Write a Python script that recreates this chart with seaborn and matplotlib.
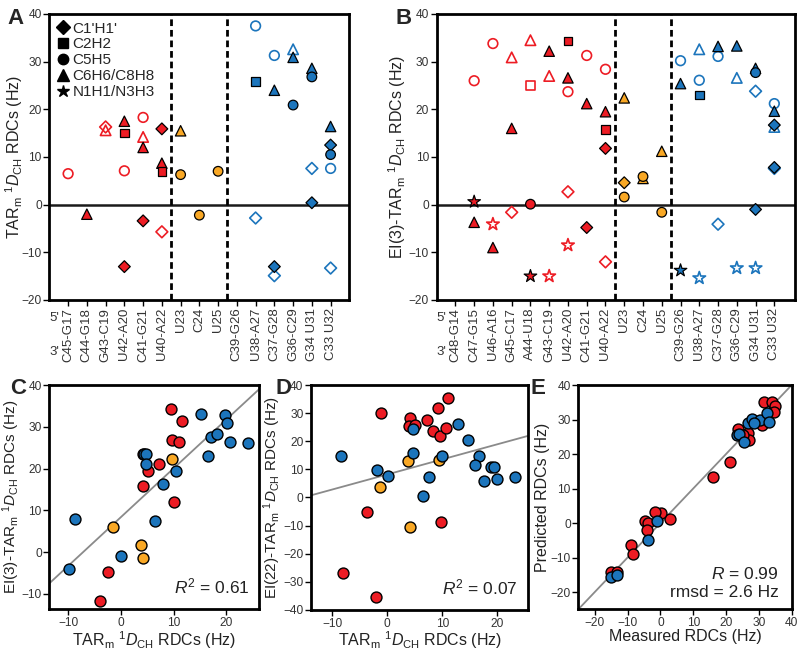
import matplotlib
matplotlib.use("Agg")
import matplotlib.pyplot as plt
from matplotlib.lines import Line2D
import pandas as pd
import seaborn as sns

sns.set_style("ticks")
plt.rcParams["font.family"] = ["Liberation Sans", "DejaVu Sans"]
plt.rcParams["mathtext.fontset"] = "custom"
plt.rcParams["mathtext.rm"] = "Liberation Sans"
plt.rcParams["mathtext.it"] = "Liberation Sans:italic"

palette = {"red": "#ED1C24", "orange": "#F9A825", "blue": "#1C75BC"}
bond_names = {"C1'": "C1'H1'", "C2": "C2H2", "C5": "C5H5", "C6": "C6H6/C8H8", "N": "N1H1/N3H3"}
bond_markers = {"C1'": "D", "C2": "s", "C5": "o", "C6": "^", "N": "*"}
bond_sizes = {"C1'": 36, "C2": 38, "C5": 48, "C6": 56, "N": 90}

# ---- panel A: TAR_m RDCs by residue ----
a_cats = ["C45-G17", "C44-G18", "G43-C19", "U42-A20", "C41-G21", "U40-A22",
          "U23", "C24", "U25", "C39-G26", "U38-A27", "C37-G28", "G36-C29",
          "G34 U31", "C33 U32"]
a_region = ["red"] * 6 + ["orange"] * 3 + ["blue"] * 6
a_res = ["C45-G17", "C44-G18", "G43-C19", "G43-C19",
         "U42-A20", "U42-A20", "U42-A20", "U42-A20",
         "C41-G21", "C41-G21", "C41-G21", "C41-G21",
         "U40-A22", "U40-A22", "U40-A22", "U40-A22",
         "U23", "U23", "C24", "U25",
         "U38-A27", "U38-A27", "U38-A27",
         "C37-G28", "C37-G28", "C37-G28", "C37-G28",
         "G36-C29", "G36-C29", "G36-C29",
         "G34 U31", "G34 U31", "G34 U31", "G34 U31",
         "C33 U32", "C33 U32", "C33 U32", "C33 U32", "C33 U32"]
a_rdc = [6.5, -2.0, 16.3, 15.6,
         17.5, 15.0, 7.1, -13.0,
         18.3, 14.2, 12.0, -3.4,
         15.9, 8.7, 6.9, -5.7,
         15.5, 6.3, -2.2, 7.0,
         37.5, 25.8, -2.8,
         31.3, 24.0, -13.0, -14.9,
         32.6, 30.9, 20.9,
         28.6, 26.8, 7.6, 0.4,
         16.4, 12.5, 10.5, 7.6, -13.3]
a_bond = ["C5", "C6", "C1'", "C6",
          "C6", "C2", "C5", "C1'",
          "C5", "C6", "C6", "C1'",
          "C1'", "C6", "C2", "C1'",
          "C6", "C5", "C5", "C5",
          "C5", "C2", "C1'",
          "C5", "C6", "C1'", "C1'",
          "C6", "C6", "C5",
          "C6", "C5", "C1'", "C1'",
          "C6", "C1'", "C5", "C5", "C1'"]
a_open = [1, 0, 1, 1,
          0, 0, 1, 0,
          1, 1, 0, 0,
          0, 0, 0, 1,
          0, 0, 0, 0,
          1, 0, 1,
          1, 0, 0, 1,
          1, 0, 0,
          0, 0, 1, 0,
          0, 0, 0, 1, 1]

# ---- panel B: EI(3)-TAR_m RDCs by residue ----
b_cats = ["C48-G14", "C47-G15", "U46-A16", "G45-C17", "A44-U18", "G43-C19",
          "U42-A20", "C41-G21", "U40-A22", "U23", "C24", "U25", "C39-G26",
          "U38-A27", "C37-G28", "G36-C29", "G34 U31", "C33 U32"]
b_region = ["red"] * 9 + ["orange"] * 3 + ["blue"] * 6
b_res = ["C47-G15", "C47-G15", "C47-G15",
         "U46-A16", "U46-A16", "U46-A16",
         "G45-C17", "G45-C17", "G45-C17",
         "A44-U18", "A44-U18", "A44-U18", "A44-U18",
         "G43-C19", "G43-C19", "G43-C19",
         "U42-A20", "U42-A20", "U42-A20", "U42-A20", "U42-A20",
         "C41-G21", "C41-G21", "C41-G21",
         "U40-A22", "U40-A22", "U40-A22", "U40-A22", "U40-A22",
         "U23", "U23", "U23", "C24", "C24", "U25", "U25",
         "C39-G26", "C39-G26", "C39-G26",
         "U38-A27", "U38-A27", "U38-A27", "U38-A27",
         "C37-G28", "C37-G28", "C37-G28",
         "G36-C29", "G36-C29", "G36-C29",
         "G34 U31", "G34 U31", "G34 U31", "G34 U31", "G34 U31",
         "C33 U32", "C33 U32", "C33 U32", "C33 U32", "C33 U32", "C33 U32"]
b_rdc = [26.0, 0.6, -3.7,
         33.8, -4.1, -9.0,
         30.9, 16.0, -1.6,
         34.5, 25.0, 0.1, -15.0,
         32.2, 27.0, -15.0,
         34.3, 26.6, 23.7, 2.7, -8.5,
         31.3, 21.2, -4.8,
         28.4, 19.5, 15.8, 11.8, -12.0,
         22.4, 4.6, 1.6, 5.5, 5.9, 11.2, -1.6,
         30.2, 25.4, -13.8,
         32.6, 26.1, 23.0, -15.4,
         33.2, 31.1, -4.1,
         33.3, 26.6, -13.3,
         28.6, 27.7, 23.8, -1.0, -13.3,
         21.2, 19.6, 16.7, 16.3, 7.8, 7.6]
b_bond = ["C5", "N", "C6",
          "C5", "N", "C6",
          "C6", "C6", "C1'",
          "C6", "C2", "C5", "N",
          "C6", "C6", "N",
          "C2", "C6", "C5", "C1'", "N",
          "C5", "C6", "C1'",
          "C5", "C6", "C2", "C1'", "C1'",
          "C6", "C1'", "C5", "C6", "C5", "C6", "C5",
          "C5", "C6", "N",
          "C6", "C5", "C2", "N",
          "C6", "C5", "C1'",
          "C6", "C6", "N",
          "C6", "C5", "C1'", "C1'", "N",
          "C5", "C6", "C1'", "C6", "C1'", "C1'"]
b_open = [1, 0, 0,
          1, 1, 0,
          1, 0, 1,
          1, 1, 0, 0,
          0, 1, 1,
          0, 0, 1, 1, 1,
          1, 0, 0,
          1, 0, 0, 0, 1,
          0, 0, 0, 0, 0, 0, 0,
          1, 0, 0,
          1, 1, 0, 1,
          0, 1, 1,
          0, 1, 1,
          0, 0, 1, 0, 1,
          1, 0, 0, 1, 0, 1]

# ---- panel C: TAR_m vs EI(3)-TAR_m ----
c_red_x = [9.5, 11.6, 9.7, 11.0, 7.3, 5.2, 4.2, 10.1, -2.5, -4.0, 4.1]
c_red_y = [34.2, 31.3, 26.8, 26.4, 21.1, 19.3, 15.8, 11.9, -4.7, -11.7, 23.6]
c_orange_x = [9.7, -1.6, 3.9, 4.2]
c_orange_y = [22.4, 5.9, 1.8, -1.5]
c_blue_x = [-8.7, -9.8, 0.1, 6.5, 7.9, 10.4, 4.4, 4.8, 4.7, 15.3, 19.7, 20.2,
            17.2, 18.3, 16.6, 20.8, 24.1]
c_blue_y = [7.9, -4.1, -1.0, 7.5, 16.4, 19.5, 23.6, 23.6, 21.2, 33.0, 32.9, 31.0,
            27.6, 28.2, 23.0, 26.4, 26.1]

# ---- panel D: TAR_m vs EI(22)-TAR_m ----
d_red_x = [11.1, -1.2, 4.2, 9.2, 7.2, 3.9, 5.1, 8.4, 9.5, 10.6, -3.7, 9.8, -8.0, -2.1]
d_red_y = [35.4, 30.0, 28.3, 31.9, 27.5, 25.4, 25.7, 23.8, 21.9, 24.8, -5.0, -8.6,
           -27.0, -35.3]
d_orange_x = [3.8, 9.4, -1.3, 4.2]
d_orange_y = [12.9, 13.3, 3.9, -10.5]
d_blue_x = [-8.3, -1.8, 0.2, 4.6, 4.6, 7.6, 6.5, 10.0, 12.9, 14.7, 16.6, 15.9,
            17.6, 18.9, 19.4, 20.0, 23.2]
d_blue_y = [14.8, 9.7, 7.6, 16.0, 24.5, 7.3, 0.4, 14.9, 26.2, 20.3, 14.8, 11.5,
            5.9, 10.8, 10.8, 6.5, 7.3]

# ---- panel E: measured vs predicted ----
e_red_x = [16.0, 21.3, 2.9, 0.3, -1.7, -4.8, -3.9, -4.1, -9.0, -8.4, -15.1, -13.3,
           31.5, 33.9, 34.8, 34.6, 30.9, 26.6, 27.1, 23.6, 25.1]
e_red_y = [13.4, 17.8, 1.3, 2.9, 3.1, 0.5, 0.0, -2.1, -6.4, -8.9, -14.1, -14.1,
           35.0, 35.0, 33.9, 32.3, 28.3, 26.0, 24.1, 27.2, 25.6]
e_blue_x = [-0.9, -3.9, -15.1, -13.1, 23.4, 24.1, 25.4, 26.6, 27.9, 30.4, 32.4,
            33.1, 28.6]
e_blue_y = [0.5, -4.8, -15.6, -15.1, 25.6, 25.8, 23.4, 29.0, 30.2, 30.0, 31.9,
            29.2, 29.0]

lab_tar = r"TAR$_\mathrm{m}$ $^{1}D_\mathrm{CH}$ RDCs (Hz)"
lab_ei3 = r"EI(3)-TAR$_\mathrm{m}$ $^{1}D_\mathrm{CH}$ RDCs (Hz)"
lab_ei22 = r"EI(22)-TAR$_\mathrm{m}$ $^{1}D_\mathrm{CH}$ RDCs (Hz)"
TICK = "#333333"
LAB = "#222222"
LABSIZE = 11.5


def style_axes(ax):
    for sp in ax.spines.values():
        sp.set_visible(True)
        sp.set_linewidth(2)
        sp.set_color("black")
    ax.tick_params(direction="out", length=4, width=1, labelsize=8.6, pad=1.5,
                   colors="black", labelcolor=TICK)


def residue_panel(ax, cats, region, res, rdc, bond, hollow, ylabel):
    df = pd.DataFrame({"res": res, "rdc": rdc, "bond": bond, "hollow": hollow})
    df["pos"] = df["res"].map({c: i for i, c in enumerate(cats)})
    df["region"] = df["res"].map(dict(zip(cats, region)))
    ax.axhline(0, color="#1a1a1a", lw=1.8, zorder=2)
    prev = region[0]
    for i, r in enumerate(region):
        if r != prev:
            ax.axvline(i - 0.5, color="black", lw=2, ls=(0, (2.4, 1.4)), zorder=2)
        prev = r
    for (reg, hol), sub in df.groupby(["region", "hollow"], sort=False):
        kw = dict(data=sub, x="pos", y="rdc", style="bond", markers=bond_markers,
                  size="bond", sizes=bond_sizes, legend=False, ax=ax, zorder=3)
        if hol:
            sns.scatterplot(**kw, color=palette[reg], facecolor="none",
                            edgecolor=palette[reg], linewidth=1.2)
        else:
            sns.scatterplot(**kw, color=palette[reg], edgecolor="black",
                            linewidth=0.9)
    ax.set_xlim(-1, len(cats))
    ax.set_ylim(-20, 40)
    ax.set_yticks(range(-20, 41, 10))
    ax.set_xticks(range(len(cats)), labels=cats, rotation=90)
    ax.set_xlabel("")
    ax.set_ylabel(ylabel, fontsize=LABSIZE, color=LAB)
    style_axes(ax)
    ax.tick_params(axis="x", labelsize=9.5)
    ax.text(-0.75, -0.062, "5'", transform=ax.get_xaxis_transform(), ha="center",
            va="center", fontsize=9.5, color=TICK)
    ax.text(-0.75, -0.183, "3'", transform=ax.get_xaxis_transform(), ha="center",
            va="center", fontsize=9.5, color=TICK)


def scatter_panel(ax, groups):
    for x, y, col in groups:
        sns.scatterplot(x=x, y=y, color=palette[col], edgecolor="black",
                        linewidth=1.0, s=62, ax=ax, zorder=3, legend=False)


fig = plt.figure(figsize=(8, 6.54), dpi=100)

axA = fig.add_axes([0.0617, 0.5413, 0.375, 0.4373])
axB = fig.add_axes([0.5458, 0.5413, 0.4479, 0.4373])
axC = fig.add_axes([0.0617, 0.0683, 0.2625, 0.3430])
axD = fig.add_axes([0.3888, 0.0673, 0.2716, 0.3440])
axE = fig.add_axes([0.7229, 0.0683, 0.2667, 0.3430])

residue_panel(axA, a_cats, a_region, a_res, a_rdc, a_bond, a_open, lab_tar)
residue_panel(axB, b_cats, b_region, b_res, b_rdc, b_bond, b_open, lab_ei3)
axB.set_xlim(-1, 18.1)
axA.yaxis.set_label_coords(-0.08, 0.5)
axB.yaxis.set_label_coords(-0.08, 0.5)

handles = [Line2D([], [], ls="none", marker=bond_markers[k], color="black",
                  markersize=9 if k in ("N", "C6") else 7.5)
           for k in bond_names]
axA.legend(handles, list(bond_names.values()), loc="upper left", frameon=False,
           fontsize=11, handlelength=0.8, handletextpad=0.2, labelspacing=0.12,
           borderaxespad=0.3, borderpad=0.2)

# C
axC.set_xlim(-13.6, 26.3)
axC.set_ylim(-13.7, 40)
scatter_panel(axC, [(c_red_x, c_red_y, "red"), (c_orange_x, c_orange_y, "orange"),
                    (c_blue_x, c_blue_y, "blue")])
sns.regplot(x=c_red_x + c_orange_x + c_blue_x, y=c_red_y + c_orange_y + c_blue_y,
            scatter=False, ci=None, truncate=False, color="#8a8a8a",
            line_kws={"lw": 1.3, "zorder": 1}, ax=axC)
axC.set_xlim(-13.6, 26.3)
axC.set_ylim(-13.7, 40)
axC.set_xticks([-10, 0, 10, 20])
axC.set_yticks([-10, 0, 10, 20, 30, 40])
axC.set_xlabel(lab_tar, fontsize=LABSIZE, color=LAB, labelpad=0)
axC.set_ylabel(lab_ei3, fontsize=11, color=LAB)
axC.yaxis.set_label_coords(-0.128, 0.5)
axC.text(0.955, 0.07, r"$R^2$ = 0.61", transform=axC.transAxes, ha="right",
         va="baseline", fontsize=12.5, color=LAB)
style_axes(axC)

# D
axD.set_xlim(-13.8, 25.6)
axD.set_ylim(-40, 40)
scatter_panel(axD, [(d_red_x, d_red_y, "red"), (d_orange_x, d_orange_y, "orange"),
                    (d_blue_x, d_blue_y, "blue")])
sns.regplot(x=d_red_x + d_orange_x + d_blue_x, y=d_red_y + d_orange_y + d_blue_y,
            scatter=False, ci=None, truncate=False, color="#8a8a8a",
            line_kws={"lw": 1.3, "zorder": 1}, ax=axD)
axD.set_xlim(-13.8, 25.6)
axD.set_ylim(-40, 40)
axD.set_xticks([-10, 0, 10, 20])
axD.set_yticks(range(-40, 41, 10))
axD.set_xlabel(lab_tar, fontsize=LABSIZE, color=LAB, labelpad=0)
axD.set_ylabel(lab_ei22, fontsize=11, color=LAB)
axD.yaxis.set_label_coords(-0.128, 0.5)
axD.text(0.953, 0.071, r"$R^2$ = 0.07", transform=axD.transAxes, ha="right",
         va="baseline", fontsize=12.5, color=LAB)
style_axes(axD)

# E
axE.axline((0, 0), slope=1, color="#8a8a8a", lw=1.3, zorder=1)
scatter_panel(axE, [(e_red_x, e_red_y, "red"), (e_blue_x, e_blue_y, "blue")])
axE.set_xlim(-25, 40)
axE.set_ylim(-25, 40)
axE.set_xticks(range(-20, 41, 10))
axE.set_yticks(range(-20, 41, 10))
axE.set_xlabel("Measured RDCs (Hz)", fontsize=LABSIZE, color=LAB, labelpad=0)
axE.set_ylabel("Predicted RDCs (Hz)", fontsize=LABSIZE, color=LAB)
axE.yaxis.set_label_coords(-0.135, 0.5)
axE.text(0.94, 0.053, "$R$ = 0.99\nrmsd = 2.6 Hz", transform=axE.transAxes,
         ha="right", va="baseline", fontsize=12.5, color=LAB,
         multialignment="right", linespacing=1.25)
style_axes(axE)

for lbl, x, y in [("A", 0.009, 0.988), ("B", 0.494, 0.988), ("C", 0.0125, 0.422),
                  ("D", 0.344, 0.422), ("E", 0.6625, 0.422)]:
    fig.text(x, y, lbl, fontsize=16, fontweight="bold", va="top", ha="left")

fig.savefig("out.png", dpi=100)
